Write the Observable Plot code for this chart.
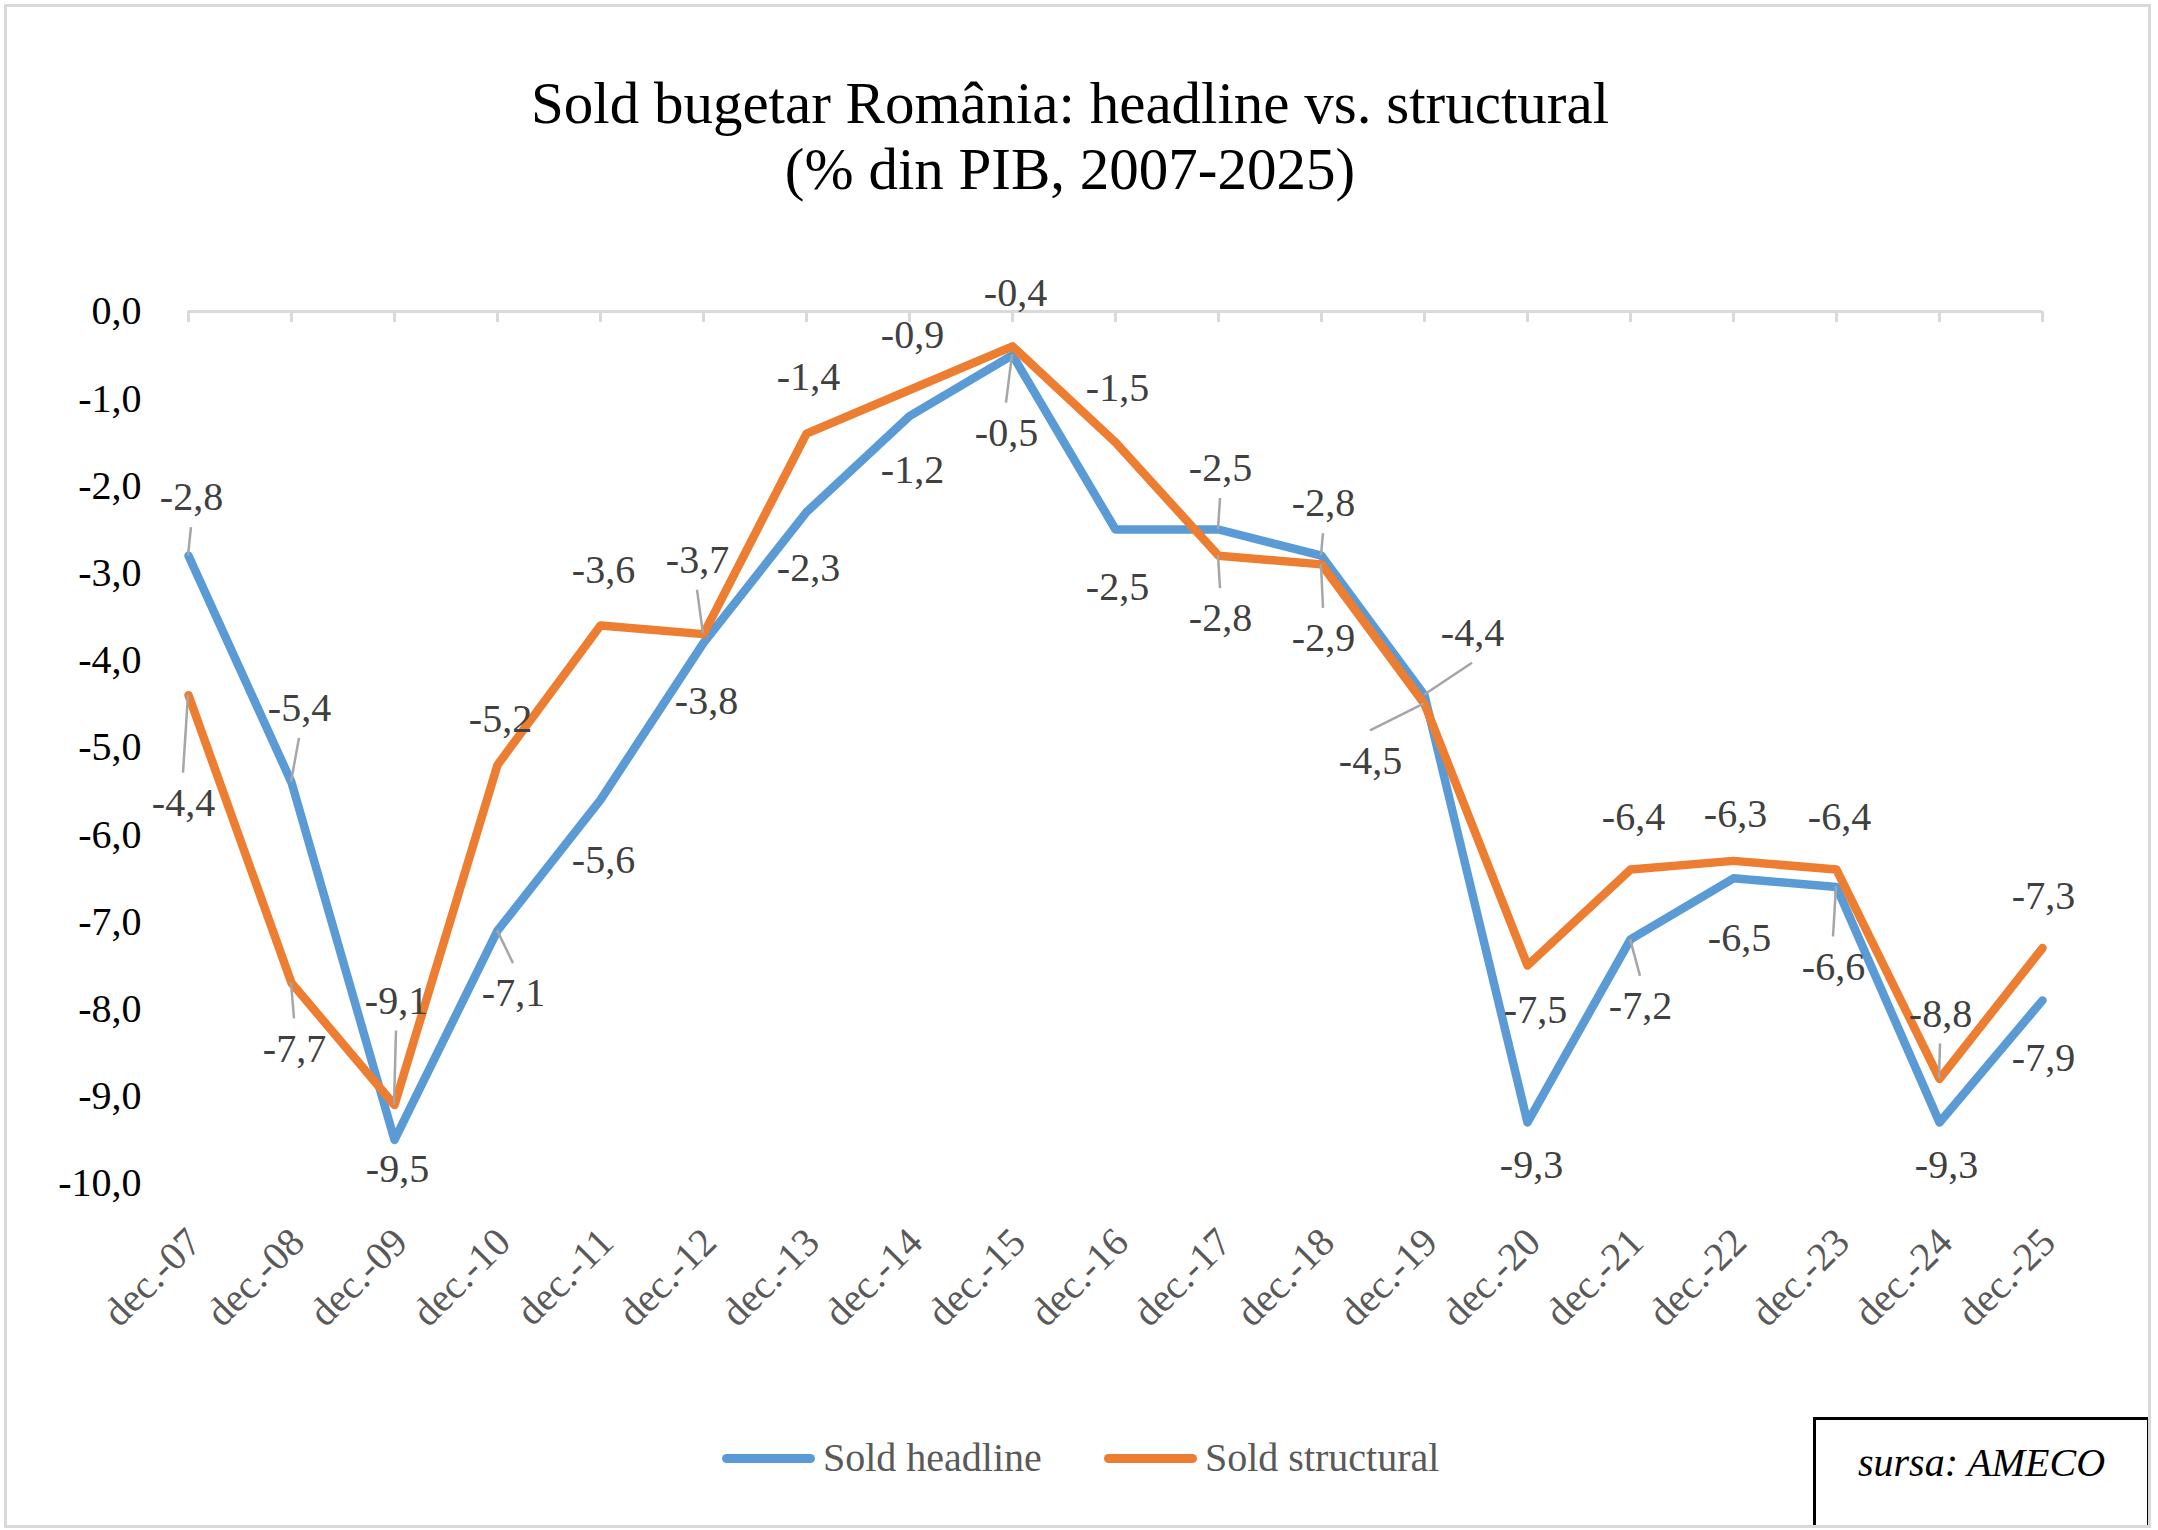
<!DOCTYPE html>
<html>
<head>
<meta charset="utf-8">
<script src="https://cdn.jsdelivr.net/npm/d3@7"></script>
<script src="https://cdn.jsdelivr.net/npm/@observablehq/plot@0.6"></script>
<style>
  html, body { margin: 0; padding: 0; background: #fff; }
  #chart { position: relative; width: 2158px; height: 1530px; overflow: hidden;
           font-family: "Liberation Serif", "Times New Roman", serif; background: #fff; }
  #chart svg { position: absolute; left: 0; top: 0; }
  #frame { position: absolute; left: 4px; top: 4px; width: 2147px; height: 1524px;
           border: 3px solid #d9d9d9; box-sizing: border-box; pointer-events: none; }
  #title { position: absolute; left: 0; top: 70px; width: 2140px; text-align: center;
           font-size: 59px; line-height: 66px; color: #000; }
  .leg { position: absolute; top: 1435px; height: 46px; display: flex; align-items: center;
         font-size: 40px; line-height: 46px; color: #595959; }
  .sw { width: 93px; height: 9px; border-radius: 4.5px; margin-right: 8px; }
  #source { position: absolute; left: 1813px; top: 1417px; width: 337px; height: 111px;
            border: 3px solid #000; box-sizing: border-box; background: #fff; }
  #source span { position: absolute; left: 0; right: 0; top: 20px; text-align: center;
                 font-style: italic; font-size: 40px; line-height: 46px; color: #000; }
</style>
</head>
<body>
<div id="chart">
  <div id="title"></div>
  <div class="leg" id="leg1" style="left:722px"></div>
  <div class="leg" id="leg2" style="left:1104px"></div>
  <div id="source"><span></span></div>
  <div id="frame"></div>
</div>
<script>
// ---- data ----
const titleLines = ["Sold bugetar România: headline vs. structural", "(% din PIB, 2007-2025)"];
const categories = ["dec.-07","dec.-08","dec.-09","dec.-10","dec.-11","dec.-12","dec.-13","dec.-14","dec.-15","dec.-16",
                    "dec.-17","dec.-18","dec.-19","dec.-20","dec.-21","dec.-22","dec.-23","dec.-24","dec.-25"];
const headline   = [-2.8, -5.4, -9.5, -7.1, -5.6, -3.8, -2.3, -1.2, -0.5, -2.5, -2.5, -2.8, -4.4, -9.3, -7.2, -6.5, -6.6, -9.3, -7.9];
const structural = [-4.4, -7.7, -9.1, -5.2, -3.6, -3.7, -1.4, -0.9, -0.4, -1.5, -2.8, -2.9, -4.5, -7.5, -6.4, -6.3, -6.4, -8.8, -7.3];
const yTicks = [0, -1, -2, -3, -4, -5, -6, -7, -8, -9, -10];
const seriesNames = ["Sold headline", "Sold structural"];
const sourceText = "sursa: AMECO";

// ---- layout (label offsets in px: dx, dy, leader line?) ----
const headlineLabelPos = [[3,-58,1],[8,-74,1],[3,29,0],[16,63,1],[3,60,0],[3,58,0],[2,56,0],[3,54,0],[-6,78,1],[2,58,0],
                          [2,-61,1],[2,-52,1],[48,-62,1],[4,43,0],[10,67,1],[6,60,0],[-3,80,1],[7,43,0],[1,58,0]];
const structuralLabelPos = [[-5,108,1],[3,66,1],[2,-104,1],[3,-46,0],[3,-55,0],[-6,-74,1],[2,-56,0],[3,-55,0],[3,-53,0],[2,-54,0],
                            [2,63,1],[2,74,1],[-54,57,1],[8,45,0],[3,-52,0],[2,-47,0],[3,-52,0],[1,-65,1],[1,-52,0]];
const colors = ["#5B9BD5", "#ED7D31"];

const fmt = v => v.toFixed(1).replace(".", ",");

const rowsH = categories.map((c, i) => ({cat: c, value: headline[i]}));
const rowsS = categories.map((c, i) => ({cat: c, value: structural[i]}));

function labelMarks(values, pos) {
  return values.map((v, i) => Plot.text([i], {
    x: j => categories[j], y: j => values[j], text: j => fmt(values[j]),
    dx: pos[i][0], dy: pos[i][1], fill: "#404040", fontSize: 40
  }));
}

const leaders = (index, scales) => {
  const g = d3.create("svg:g").attr("stroke", "#a6a6a6").attr("stroke-width", 2.5);
  [[headline, headlineLabelPos], [structural, structuralLabelPos]].forEach(([vals, pos]) => {
    vals.forEach((v, i) => {
      const [dx, dy, lead] = pos[i];
      if (!lead) return;
      const px = scales.x(categories[i]), py = scales.y(v);
      g.append("line")
        .attr("x1", px + dx).attr("y1", py + dy + (dy < 0 ? 30 : -30))
        .attr("x2", px).attr("y2", py);
    });
  });
  return g.node();
};

const plot = Plot.plot({
  width: 2158, height: 1530,
  marginTop: 311, marginBottom: 347, marginLeft: 188, marginRight: 116,
  style: {fontFamily: "Liberation Serif, Times New Roman, serif", fontSize: "40px", background: "transparent", maxWidth: "none"},
  x: {type: "point", domain: categories, padding: 0},
  y: {domain: [-10, 0]},
  marks: [
    Plot.ruleY([0], {stroke: "#d9d9d9", strokeWidth: 3}),
    Plot.ruleX(categories, {x: d => d, y1: 0, y2: 0, insetBottom: -11, stroke: "#d9d9d9", strokeWidth: 3}),
    Plot.axisY({ticks: yTicks, tickFormat: fmt, tickSize: 0, tickPadding: 47, fontSize: 40, fill: "#000", label: null}),
    Plot.axisX({anchor: "bottom", tickSize: 0, tickPadding: 52, tickRotate: -45, fontSize: 40, fill: "#595959", dx: 6, label: null}),
    Plot.line(rowsH, {x: "cat", y: "value", stroke: colors[0], strokeWidth: 8.5, strokeLinejoin: "round", strokeLinecap: "round"}),
    Plot.line(rowsS, {x: "cat", y: "value", stroke: colors[1], strokeWidth: 8.5, strokeLinejoin: "round", strokeLinecap: "round"}),
    leaders,
    ...labelMarks(headline, headlineLabelPos),
    ...labelMarks(structural, structuralLabelPos)
  ]
});

const chart = document.getElementById("chart");
chart.insertBefore(plot, chart.firstChild);

document.getElementById("title").innerHTML = titleLines.join("<br>");
[["leg1", 0], ["leg2", 1]].forEach(([id, k]) => {
  const el = document.getElementById(id);
  const sw = document.createElement("div");
  sw.className = "sw"; sw.style.background = colors[k];
  const t = document.createElement("span"); t.textContent = seriesNames[k];
  el.appendChild(sw); el.appendChild(t);
});
document.querySelector("#source span").textContent = sourceText;
</script>
</body>
</html>
